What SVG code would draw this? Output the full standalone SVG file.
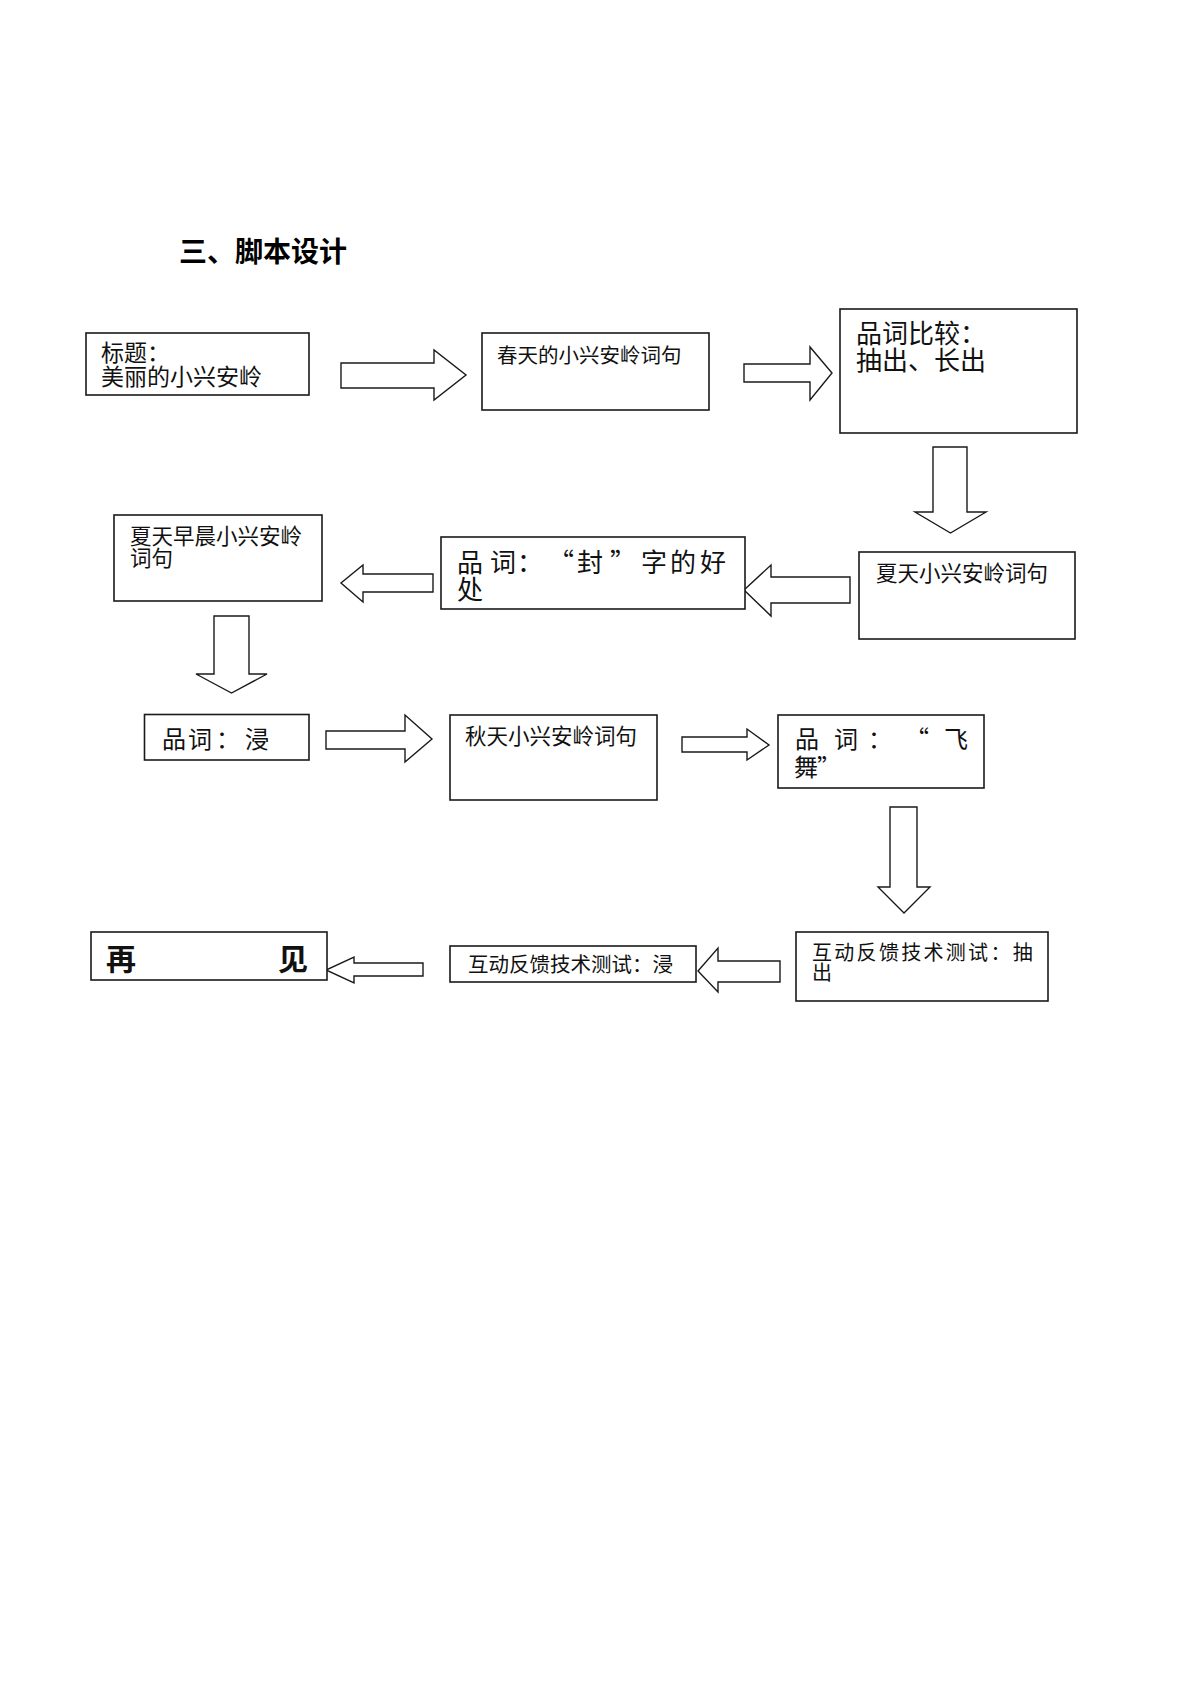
<svg xmlns="http://www.w3.org/2000/svg" width="1191" height="1684" viewBox="0 0 1191 1684">
<style>
  .bg { fill: #ffffff; }
  .box { fill: #ffffff; stroke: #1a1a1a; stroke-width: 1.6; }
  .arr { fill: #ffffff; stroke: #1a1a1a; stroke-width: 1.4; stroke-linejoin: miter; }
  .t { font-family: "Noto Sans CJK SC", "Noto Sans CJK JP", sans-serif; fill: #111111; }
  .title { font-family: "Noto Sans CJK SC", sans-serif; font-weight: bold; font-size: 28px; fill: #000000; }
</style>
<rect class="bg" x="0" y="0" width="1191" height="1684"/>

<g id="title">
  <text class="title" x="179" y="262">三、脚本设计</text>
</g>

<g id="connectors">
  <polygon class="arr" points="341,363 434,363 434,350 466,375 434,400 434,388 341,388"/>
  <polygon class="arr" points="744,364 810,364 810,347 832,373 810,400 810,382 744,382"/>
  <polygon class="arr" points="933,447 967,447 967,512 986,512 950.5,533 915,512 933,512"/>
  <polygon class="arr" points="850,577 771,577 771,565 744,590 771,616 771,603 850,603"/>
  <polygon class="arr" points="433,574 363,574 363,565 341,583 363,602 363,592 433,592"/>
  <polygon class="arr" points="214,616 249,616 249,674 267,674 231.5,693 196,674 214,674"/>
  <polygon class="arr" points="326,731 405,731 405,715 432,739 405,762 405,749 326,749"/>
  <polygon class="arr" points="682,737 747,737 747,729 769,745 747,760 747,752 682,752"/>
  <polygon class="arr" points="890,807 917,807 917,887 930,887 904,913 878,887 890,887"/>
  <polygon class="arr" points="780,961 718,961 718,948 698,971 718,992 718,982 780,982"/>
  <polygon class="arr" points="423,963 354,963 354,957 326,970 354,983 354,976 423,976"/>
</g>

<g id="node-title">
  <rect class="box" x="86" y="333" width="223" height="62"/>
  <text class="t" font-size="23"><tspan x="101" y="361">标题：</tspan><tspan x="101" y="385">美丽的小兴安岭</tspan></text>
</g>

<g id="node-spring">
  <rect class="box" x="482" y="333" width="227" height="77"/>
  <text class="t" font-size="20.5" x="497" y="363">春天的小兴安岭词句</text>
</g>

<g id="node-compare">
  <rect class="box" x="840" y="309" width="237" height="124"/>
  <text class="t" font-size="26"><tspan x="856" y="343">品词比较：</tspan><tspan x="856" y="370">抽出、长出</tspan></text>
</g>

<g id="node-summer">
  <rect class="box" x="859" y="552" width="216" height="87"/>
  <text class="t" font-size="21.5" x="876" y="581">夏天小兴安岭词句</text>
</g>

<g id="node-feng">
  <rect class="box" x="441" y="537" width="304" height="72"/>
  <text class="t" font-size="26"><tspan x="457" y="572">品</tspan><tspan x="490" y="572">词</tspan><tspan x="517" y="572">：</tspan><tspan x="548" y="572">“</tspan><tspan x="577" y="572">封</tspan><tspan x="610" y="572">”</tspan><tspan x="641" y="572">字</tspan><tspan x="670" y="572">的</tspan><tspan x="700" y="572">好</tspan><tspan x="457" y="599">处</tspan></text>
</g>

<g id="node-summer-morning">
  <rect class="box" x="114" y="515" width="208" height="86"/>
  <text class="t" font-size="21.5"><tspan x="130" y="544">夏天早晨小兴安岭</tspan><tspan x="130" y="566">词句</tspan></text>
</g>

<g id="node-jin">
  <rect class="box" x="144.5" y="714.5" width="164.5" height="45.5"/>
  <text class="t" font-size="24" y="748"><tspan x="162">品</tspan><tspan x="188">词</tspan><tspan x="216">：</tspan><tspan x="245">浸</tspan></text>
</g>

<g id="node-autumn">
  <rect class="box" x="450" y="715" width="207" height="85"/>
  <text class="t" font-size="21.5" x="465" y="744">秋天小兴安岭词句</text>
</g>

<g id="node-feiwu">
  <rect class="box" x="778" y="715" width="206" height="73"/>
  <text class="t" font-size="24"><tspan x="795" y="748">品</tspan><tspan x="834" y="748">词</tspan><tspan x="868" y="748">：</tspan><tspan x="905" y="748">“</tspan><tspan x="944" y="748">飞</tspan><tspan x="794" y="776">舞</tspan><tspan x="817" y="776">”</tspan></text>
</g>

<g id="node-test-chouchu">
  <rect class="box" x="796" y="932" width="252" height="69"/>
  <text class="t" font-size="20"><tspan x="812" y="960" letter-spacing="2.3">互动反馈技术测试：抽</tspan><tspan x="812" y="980">出</tspan></text>
</g>

<g id="node-test-jin">
  <rect class="box" x="450" y="946" width="246" height="36"/>
  <text class="t" font-size="20.5" x="468" y="972">互动反馈技术测试：浸</text>
</g>

<g id="node-bye">
  <rect class="box" x="91" y="932" width="236" height="48"/>
  <text class="t" font-size="30" font-weight="bold" y="970"><tspan x="106">再</tspan><tspan x="278">见</tspan></text>
</g>
</svg>
